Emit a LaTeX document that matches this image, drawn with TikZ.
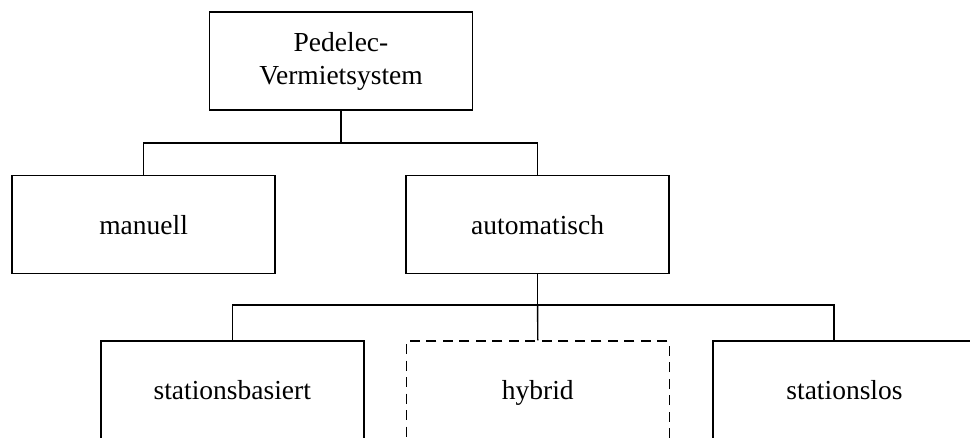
\documentclass[tikz,border=0pt]{standalone}
\usepackage{fontspec}
\setmainfont{Liberation Serif}
\begin{document}
\begin{tikzpicture}[x=1pt,y=-1pt,
  box/.style={draw, line width=1.4pt, minimum width=263pt, minimum height=98pt, inner sep=0pt, align=center, font=\fontsize{27.5}{33}\selectfont},
  onebox/.style={box, text height=25pt, text depth=5.6pt},
  dashbox/.style={onebox, dash pattern=on 10pt off 6.5pt},
  conn/.style={line width=1.4pt}]
\clip (0,0) rectangle (970,437);
\fill[white] (0,0) rectangle (970,437);
\node[box] (top) at (341,61) {Pedelec-\\Vermietsystem};
\node[onebox] (man) at (143.6,224.6) {manuell};
\node[onebox] (auto) at (537.6,224.6) {automatisch};
\node[onebox] (sb) at (232.3,390) {stationsbasiert};
\node[dashbox] (hy) at (537.8,390) {hybrid};
\node[onebox] (sl) at (844.5,390) {stationslos};
\coordinate (j1) at (341,143);
\coordinate (j2) at (537.6,305);
\draw[conn] (top.south) -- (j1);
\draw[conn] (man.north) |- (j1) -| (auto.north);
\draw[conn] (auto.south) -- (j2);
\draw[conn] (sb.north) |- (j2) -| ([xshift=-10.5pt]sl.north);
\draw[conn] (j2) -- (hy.north);
\end{tikzpicture}
\end{document}
